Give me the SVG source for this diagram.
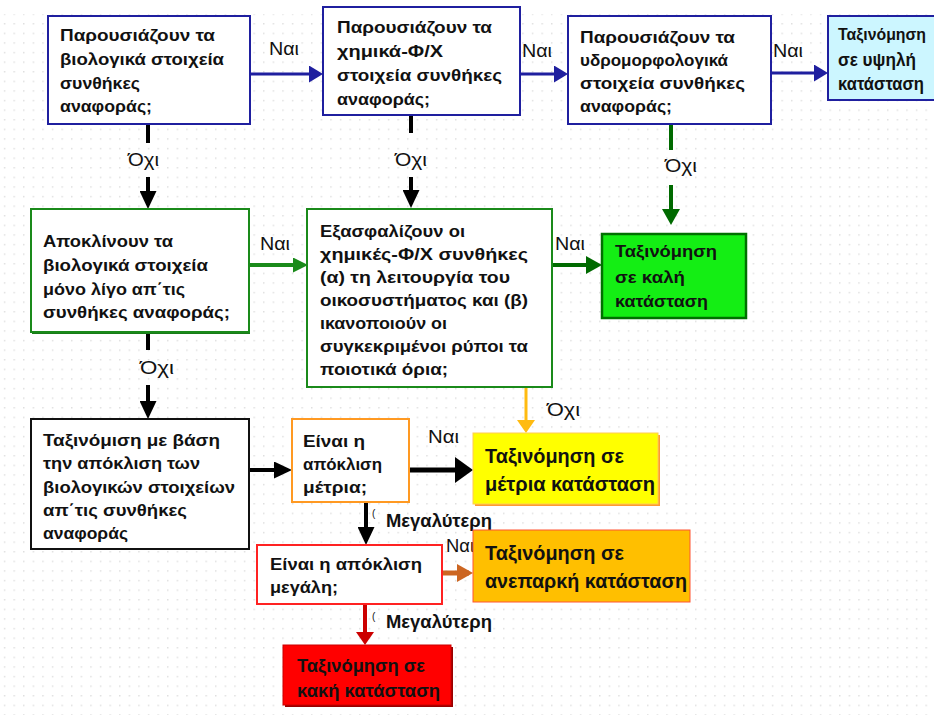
<svg xmlns="http://www.w3.org/2000/svg" width="934" height="715" viewBox="0 0 934 715">
<defs>
<style>
.t{font-family:"Liberation Sans",Arial,sans-serif;font-size:17px;font-weight:bold;fill:#111}
.big{font-size:20px}
.mid{font-size:18px}
.b19{font-size:18px}
.b16{font-size:16px}
.lbl{font-family:"Liberation Sans",Arial,sans-serif;font-size:18px;fill:#111}
.bold{font-weight:bold}
.sm{font-family:"Liberation Sans",Arial,sans-serif;font-size:10px;fill:#111}
.box{fill:#fff;stroke-width:2}
.c{fill:none}
</style>
<pattern id="dots" width="9.6" height="9.6" patternUnits="userSpaceOnUse">
<rect x="4" y="4" width="1.2" height="1.2" fill="#cfcfcf"/>
</pattern>
<marker id="mBlue" markerUnits="userSpaceOnUse" markerWidth="14" markerHeight="17" refX="11" refY="8.5" orient="auto"><path d="M0,0 L14,8.5 L0,17 z" fill="#1f1f9f"/></marker>
<marker id="mBlack" markerUnits="userSpaceOnUse" markerWidth="18" markerHeight="17" refX="14" refY="8.5" orient="auto"><path d="M0,0 L18,8.5 L0,17 z" fill="#000"/></marker>
<marker id="mBlackXL" markerUnits="userSpaceOnUse" markerWidth="18" markerHeight="26" refX="14" refY="13" orient="auto"><path d="M0,0 L18,13 L0,26 z" fill="#000"/></marker>
<marker id="mGreen" markerUnits="userSpaceOnUse" markerWidth="15" markerHeight="15" refX="11" refY="7.5" orient="auto"><path d="M0,0 L15,7.5 L0,15 z" fill="#1a8a1a"/></marker>
<marker id="mDGreen" markerUnits="userSpaceOnUse" markerWidth="16" markerHeight="18" refX="12" refY="9" orient="auto"><path d="M0,0 L16,9 L0,18 z" fill="#006a00"/></marker>
<marker id="mGold" markerUnits="userSpaceOnUse" markerWidth="13" markerHeight="18" refX="10" refY="9" orient="auto"><path d="M0,0 L13,9 L0,18 z" fill="#ffbb11"/></marker>
<marker id="mBrown" markerUnits="userSpaceOnUse" markerWidth="16" markerHeight="18" refX="12" refY="9" orient="auto"><path d="M0,0 L16,9 L0,18 z" fill="#cc6622"/></marker>
<marker id="mRed" markerUnits="userSpaceOnUse" markerWidth="13" markerHeight="18" refX="10" refY="9" orient="auto"><path d="M0,0 L13,9 L0,18 z" fill="#cc0000"/></marker>
</defs>
<rect x="0" y="0" width="934" height="715" fill="#fff"/>
<rect x="0" y="14" width="934" height="701" fill="url(#dots)"/>

<g id="connectors">
<line class="c" x1="250" y1="74" x2="320" y2="74" stroke="#1f1f9f" stroke-width="3" marker-end="url(#mBlue)"/>
<line class="c" x1="520" y1="74" x2="565" y2="74" stroke="#1f1f9f" stroke-width="3" marker-end="url(#mBlue)"/>
<line class="c" x1="771" y1="73" x2="825" y2="73" stroke="#1f1f9f" stroke-width="3" marker-end="url(#mBlue)"/>
<line class="c" x1="148" y1="124" x2="148" y2="143" stroke="#000" stroke-width="4"/>
<line class="c" x1="148" y1="177" x2="148" y2="205" stroke="#000" stroke-width="4" marker-end="url(#mBlack)"/>
<line class="c" x1="411" y1="115" x2="411" y2="133" stroke="#000" stroke-width="4"/>
<line class="c" x1="411" y1="177" x2="411" y2="204" stroke="#000" stroke-width="4" marker-end="url(#mBlack)"/>
<line class="c" x1="671" y1="124" x2="671" y2="150" stroke="#006a00" stroke-width="4"/>
<line class="c" x1="671" y1="185" x2="671" y2="221" stroke="#006a00" stroke-width="4" marker-end="url(#mDGreen)"/>
<line class="c" x1="249" y1="265" x2="304" y2="265" stroke="#1a8a1a" stroke-width="4" marker-end="url(#mGreen)"/>
<line class="c" x1="552" y1="265" x2="598" y2="265" stroke="#006a00" stroke-width="4" marker-end="url(#mDGreen)"/>
<line class="c" x1="148" y1="332" x2="148" y2="350" stroke="#000" stroke-width="4"/>
<line class="c" x1="148" y1="385" x2="148" y2="415" stroke="#000" stroke-width="4" marker-end="url(#mBlack)"/>
<line class="c" x1="526" y1="387" x2="526" y2="430" stroke="#ffbb11" stroke-width="3" marker-end="url(#mGold)"/>
<line class="c" x1="249" y1="470" x2="288" y2="470" stroke="#000" stroke-width="4" marker-end="url(#mBlack)"/>
<line class="c" x1="409" y1="470" x2="469" y2="470" stroke="#000" stroke-width="5" marker-end="url(#mBlackXL)"/>
<line class="c" x1="366" y1="502" x2="366" y2="541" stroke="#000" stroke-width="4" marker-end="url(#mBlack)"/>
<line class="c" x1="442" y1="573" x2="469" y2="573" stroke="#cc6622" stroke-width="5" marker-end="url(#mBrown)"/>
<line class="c" x1="365" y1="604" x2="365" y2="642" stroke="#cc0000" stroke-width="4" marker-end="url(#mRed)"/>
<text class="lbl" x="269" y="55" textLength="30" lengthAdjust="spacingAndGlyphs">Ναι</text>
<text class="lbl" x="522" y="57" textLength="30" lengthAdjust="spacingAndGlyphs">Ναι</text>
<text class="lbl" x="773" y="57" textLength="30" lengthAdjust="spacingAndGlyphs">Ναι</text>
<text class="lbl" x="260" y="250" textLength="30" lengthAdjust="spacingAndGlyphs">Ναι</text>
<text class="lbl" x="555" y="250" textLength="30" lengthAdjust="spacingAndGlyphs">Ναι</text>
<text class="lbl" x="428" y="443" textLength="31" lengthAdjust="spacingAndGlyphs">Ναι</text>
<text class="lbl" x="446" y="552" textLength="28" lengthAdjust="spacingAndGlyphs">Ναι</text>
<text class="lbl" x="128" y="166" textLength="31" lengthAdjust="spacingAndGlyphs">Όχι</text>
<text class="lbl" x="395" y="166" textLength="32" lengthAdjust="spacingAndGlyphs">Όχι</text>
<text class="lbl" x="665" y="172" textLength="32" lengthAdjust="spacingAndGlyphs">Όχι</text>
<text class="lbl" x="140" y="374" textLength="34" lengthAdjust="spacingAndGlyphs">Όχι</text>
<text class="lbl" x="547" y="416" textLength="33" lengthAdjust="spacingAndGlyphs">Όχι</text>
<text class="sm" x="372" y="517">(</text>
<text class="lbl bold" x="386" y="527" textLength="106" lengthAdjust="spacingAndGlyphs">Μεγαλύτερη</text>
<text class="sm" x="372" y="620">(</text>
<text class="lbl bold" x="386" y="628" textLength="106" lengthAdjust="spacingAndGlyphs">Μεγαλύτερη</text>
</g>

<g id="n1">
<rect class="box" x="48" y="16" width="202" height="108" stroke="#1f1f9f"/>
<text class="t" x="60" y="41" textLength="155" lengthAdjust="spacingAndGlyphs">Παρουσιάζουν τα</text>
<text class="t" x="60" y="65" textLength="164" lengthAdjust="spacingAndGlyphs">βιολογικά στοιχεία</text>
<text class="t" x="60" y="89" textLength="80" lengthAdjust="spacingAndGlyphs">συνθήκες</text>
<text class="t" x="60" y="112" textLength="92" lengthAdjust="spacingAndGlyphs">αναφοράς;</text>
</g>
<g id="n2">
<rect class="box" x="323" y="7" width="197" height="108" stroke="#1f1f9f"/>
<text class="t" x="337" y="33" textLength="155" lengthAdjust="spacingAndGlyphs">Παρουσιάζουν τα</text>
<text class="t" x="337" y="57" textLength="106" lengthAdjust="spacingAndGlyphs">χημικά-Φ/Χ</text>
<text class="t" x="337" y="81" textLength="165" lengthAdjust="spacingAndGlyphs">στοιχεία συνθήκες</text>
<text class="t" x="337" y="105" textLength="93" lengthAdjust="spacingAndGlyphs">αναφοράς;</text>
</g>
<g id="n3">
<rect class="box" x="568" y="16" width="203" height="108" stroke="#1f1f9f"/>
<text class="t" x="580" y="43" textLength="155" lengthAdjust="spacingAndGlyphs">Παρουσιάζουν τα</text>
<text class="t" x="580" y="66" textLength="148" lengthAdjust="spacingAndGlyphs">υδρομορφολογικά</text>
<text class="t" x="580" y="89" textLength="165" lengthAdjust="spacingAndGlyphs">στοιχεία συνθήκες</text>
<text class="t" x="580" y="112" textLength="92" lengthAdjust="spacingAndGlyphs">αναφοράς;</text>
</g>
<g id="n4">
<rect x="828" y="16" width="120" height="84" fill="#ccf6ff" stroke="#1f1f9f" stroke-width="2"/>
<text class="t b16" x="838" y="40" textLength="88" lengthAdjust="spacingAndGlyphs">Ταξινόμηση</text>
<text class="t b19" x="838" y="66" textLength="78" lengthAdjust="spacingAndGlyphs">σε υψηλή</text>
<text class="t b19" x="838" y="90" textLength="86" lengthAdjust="spacingAndGlyphs">κατάσταση</text>
</g>
<g id="n5">
<rect x="32" y="211" width="218" height="123" fill="#1a7a1a"/>
<rect class="box" x="31" y="209" width="218" height="123" stroke="#1a8a1a"/>
<text class="t" x="43" y="247" textLength="130" lengthAdjust="spacingAndGlyphs">Αποκλίνουν τα</text>
<text class="t" x="43" y="271" textLength="165" lengthAdjust="spacingAndGlyphs">βιολογικά στοιχεία</text>
<text class="t" x="43" y="295" textLength="142" lengthAdjust="spacingAndGlyphs">μόνο λίγο απ΄τις</text>
<text class="t" x="43" y="318" textLength="187" lengthAdjust="spacingAndGlyphs">συνθήκες αναφοράς;</text>
</g>
<g id="n6">
<rect class="box" x="307" y="209" width="245" height="178" stroke="#1a8a1a"/>
<text class="t" x="320" y="237" textLength="145" lengthAdjust="spacingAndGlyphs">Εξασφαλίζουν οι</text>
<text class="t" x="320" y="260" textLength="208" lengthAdjust="spacingAndGlyphs">χημικές-Φ/Χ συνθήκες</text>
<text class="t" x="320" y="283" textLength="190" lengthAdjust="spacingAndGlyphs">(α) τη λειτουργία του</text>
<text class="t" x="320" y="306" textLength="208" lengthAdjust="spacingAndGlyphs">οικοσυστήματος και (β)</text>
<text class="t" x="320" y="329" textLength="127" lengthAdjust="spacingAndGlyphs">ικανοποιούν οι</text>
<text class="t" x="320" y="352" textLength="208" lengthAdjust="spacingAndGlyphs">συγκεκριμένοι ρύποι τα</text>
<text class="t" x="320" y="375" textLength="128" lengthAdjust="spacingAndGlyphs">ποιοτικά όρια;</text>
</g>
<g id="n8">
<rect x="602" y="234" width="144" height="84" fill="#14ee14" stroke="#007000" stroke-width="2.5"/>
<text class="t" x="615" y="257" textLength="102" lengthAdjust="spacingAndGlyphs">Ταξινόμηση</text>
<text class="t" x="615" y="283" textLength="70" lengthAdjust="spacingAndGlyphs">σε καλή</text>
<text class="t" x="615" y="307" textLength="93" lengthAdjust="spacingAndGlyphs">κατάσταση</text>
</g>
<g id="n7">
<rect class="box" x="31" y="419" width="218" height="130" stroke="#111"/>
<text class="t" x="43" y="446" textLength="177" lengthAdjust="spacingAndGlyphs">Ταξινόμιση με βάση</text>
<text class="t" x="43" y="469" textLength="157" lengthAdjust="spacingAndGlyphs">την απόκλιση των</text>
<text class="t" x="43" y="493" textLength="192" lengthAdjust="spacingAndGlyphs">βιολογικών στοιχείων</text>
<text class="t" x="43" y="516" textLength="144" lengthAdjust="spacingAndGlyphs">απ΄τις συνθήκες</text>
<text class="t" x="43" y="539" textLength="85" lengthAdjust="spacingAndGlyphs">αναφοράς</text>
</g>
<g id="n9">
<rect class="box" x="292" y="419" width="117" height="83" stroke="#ff9922"/>
<text class="t" x="303" y="447" textLength="62" lengthAdjust="spacingAndGlyphs">Είναι η</text>
<text class="t" x="303" y="470" textLength="79" lengthAdjust="spacingAndGlyphs">απόκλιση</text>
<text class="t" x="303" y="493" textLength="64" lengthAdjust="spacingAndGlyphs">μέτρια;</text>
</g>
<g id="n11">
<rect x="475" y="435" width="185" height="71" fill="#ff9933"/>
<rect x="473" y="433" width="185" height="71" fill="#ffff00" stroke="#ffcc55" stroke-width="1"/>
<text class="t big" x="485" y="463" textLength="139" lengthAdjust="spacingAndGlyphs">Ταξινόμηση σε</text>
<text class="t big" x="485" y="491" textLength="170" lengthAdjust="spacingAndGlyphs">μέτρια κατάσταση</text>
</g>
<g id="n10">
<rect class="box" x="257" y="545" width="185" height="59" stroke="#ff2222"/>
<text class="t" x="270" y="570" textLength="152" lengthAdjust="spacingAndGlyphs">Είναι η απόκλιση</text>
<text class="t" x="270" y="593" textLength="68" lengthAdjust="spacingAndGlyphs">μεγάλη;</text>
</g>
<g id="n12">
<rect x="473" y="530" width="217" height="72" fill="#ffbf00" stroke="#ff5533" stroke-width="1"/>
<text class="t big" x="485" y="560" textLength="139" lengthAdjust="spacingAndGlyphs">Ταξινόμηση σε</text>
<text class="t big" x="485" y="588" textLength="202" lengthAdjust="spacingAndGlyphs">ανεπαρκή κατάσταση</text>
</g>
<g id="n13">
<rect x="285" y="647" width="168" height="60" fill="#990000"/>
<rect x="283" y="645" width="168" height="60" fill="#ff0000" stroke="#cc0000" stroke-width="1"/>
<text class="t mid" x="297" y="672" textLength="128" lengthAdjust="spacingAndGlyphs">Ταξινόμηση σε</text>
<text class="t mid" x="297" y="697" textLength="143" lengthAdjust="spacingAndGlyphs">κακή κατάσταση</text>
</g>
</svg>
